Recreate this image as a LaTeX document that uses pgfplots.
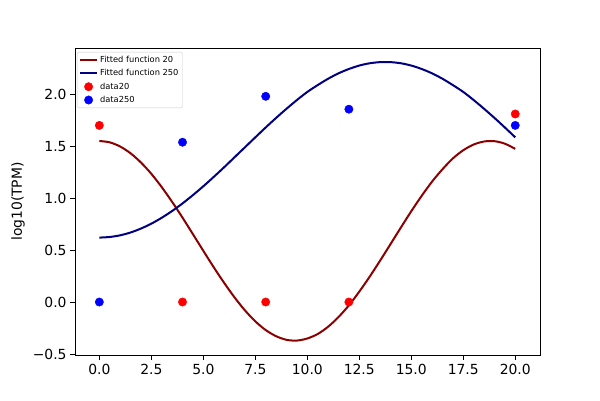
\documentclass[border=0pt]{standalone}
\usepackage{pgfplots}
\pgfplotsset{compat=1.18}
\usepackage{fontspec}
\setmainfont{DejaVu Sans}
\definecolor{fitA}{HTML}{8B0000}
\definecolor{fitB}{HTML}{000080}
\definecolor{legframe}{HTML}{CCCCCC}
\begin{document}
\begin{tikzpicture}
\useasboundingbox (0,0) rectangle (600pt,400pt);
\begin{axis}[
  at={(75pt,45pt)}, anchor=south west,
  scale only axis, width=465pt, height=307pt,
  xmin=-1.17, xmax=21.19, ymin=-0.51, ymax=2.445,
  axis line style={line width=0.8pt},
  tick align=outside, major tick length=4.9pt,
  tick style={line width=0.8pt, black},
  xtick pos=left, ytick pos=left,
  xtick={0,2.5,5,7.5,10,12.5,15,17.5,20},
  xticklabels={0.0,2.5,5.0,7.5,10.0,12.5,15.0,17.5,20.0},
  ytick={-0.5,0,0.5,1,1.5,2},
  yticklabels={−0.5,0.0,0.5,1.0,1.5,2.0},
  ticklabel style={font=\fontsize{13.9}{16}\selectfont},
  xticklabel style={yshift=-1pt},
  ylabel={log10(TPM)},
  label style={font=\fontsize{13.9}{16}\selectfont},
  ylabel style={at={(axis description cs:-0.1226,0.5)},anchor=center},
  legend cell align=left,
  legend style={at={(0.004,0.987)}, anchor=north west,
    font=\fontsize{8.3}{9.5}\selectfont, draw=legframe, rounded corners=1.5pt,
    fill=white, inner sep=2pt, row sep=1.5pt},
]
\addplot[color=fitA, line width=2pt, smooth, mark=none] coordinates {
(0,1.550)(0.5,1.537)(1,1.497)(1.5,1.432)(2,1.343)(2.5,1.234)(3,1.106)(3.5,0.964)
(4,0.812)(4.5,0.653)(5,0.493)(5.5,0.335)(6,0.185)(6.5,0.045)(7,-0.080)(7.5,-0.186)
(8,-0.270)(8.5,-0.329)(9,-0.364)(9.5,-0.371)(10,-0.351)(10.5,-0.308)(11,-0.238)
(11.5,-0.145)(12,-0.032)(12.5,0.100)(13,0.244)(13.5,0.398)(14,0.557)(14.5,0.717)
(15,0.874)(15.5,1.022)(16,1.159)(16.5,1.278)(17,1.382)(17.5,1.461)(18,1.516)
(18.5,1.545)(19,1.548)(19.5,1.524)(20,1.474)};
\addlegendentry{Fitted function 20}
\addplot[color=fitB, line width=2pt, smooth, mark=none] coordinates {
(0,0.620)(0.5,0.626)(1,0.642)(1.5,0.669)(2,0.707)(2.5,0.754)(3,0.811)(3.5,0.876)
(4,0.949)(4.5,1.029)(5,1.114)(5.5,1.204)(6,1.297)(6.5,1.393)(7,1.489)(7.5,1.585)
(8,1.680)(8.5,1.772)(9,1.860)(9.5,1.944)(10,2.022)(10.5,2.088)(11,2.149)(11.5,2.201)
(12,2.243)(12.5,2.276)(13,2.298)(13.5,2.309)(14,2.309)(14.5,2.298)(15,2.276)
(15.5,2.243)(16,2.201)(16.5,2.149)(17,2.088)(17.5,2.022)(18,1.944)(18.5,1.860)
(19,1.772)(19.5,1.680)(20,1.585)};
\addlegendentry{Fitted function 250}
\addplot[only marks, mark=*, mark size=4.2pt, color=red, mark options={draw=red, fill=red}] coordinates {
(0,1.70)(4,0)(8,0)(12,0)(20,1.81)};
\addlegendentry{data20}
\addplot[only marks, mark=*, mark size=4.2pt, color=blue, mark options={draw=blue, fill=blue}] coordinates {
(0,0)(4,1.538)(8,1.98)(12,1.856)(20,1.70)};
\addlegendentry{data250}
\end{axis}
\end{tikzpicture}
\end{document}
